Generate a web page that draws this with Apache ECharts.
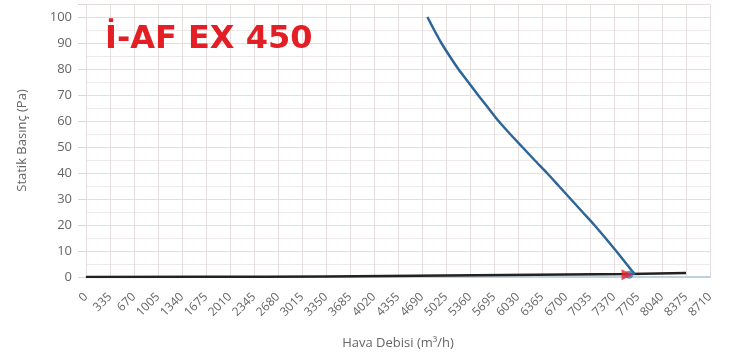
<!DOCTYPE html>
<html>
<head>
<meta charset="utf-8">
<script src="https://cdn.jsdelivr.net/npm/echarts@6/dist/echarts.min.js"></script>
<style>
html,body{margin:0;padding:0;background:#fff;}
#chart{width:736px;height:355px;}
</style>
</head>
<body>
<div id="chart"></div>
<script>
// Fan curve (flow m3/h, static pressure Pa)
const fanFlow = [4765, 4860, 4960, 5075, 5197, 5335, 5472, 5615, 5758, 5920, 6090, 6260, 6435, 6600, 6765, 6930, 7095, 7250, 7400, 7545, 7660];
const fanPressure = [100, 95, 90, 85, 80, 75, 70, 65, 60, 55, 50, 45, 40, 35, 30, 25, 20, 15, 10, 5, 1];
// System curve
const sysFlow = [0, 1675, 3350, 5025, 6700, 7580, 8375];
const sysPressure = [0, 0.06, 0.24, 0.54, 0.96, 1.2, 1.5];
// Operating point
const opFlow = [7580];
const opPressure = [0.9];
// Axis ticks
const xTicks = [0,335,670,1005,1340,1675,2010,2345,2680,3015,3350,3685,4020,4355,4690,5025,5360,5695,6030,6365,6700,7035,7370,7705,8040,8375,8710];
const yTicks = [0,10,20,30,40,50,60,70,80,90,100];

const chart = echarts.init(document.getElementById('chart'), null, {renderer:'canvas'});
const zip = (a,b) => a.map((v,i)=>[v,b[i]]);
const gridCol = '#e6dddd';
chart.setOption({
  animation:false,
  title:{
    text:'İ-AF EX 450',
    left:100, top:19,
    textStyle:{color:'#e31e24', fontSize:32, fontWeight:'bold', fontFamily:'DejaVu Sans'}
  },
  grid:{left:86, right:26, top:4, bottom:76},
  xAxis:{
    type:'value', min:xTicks[0], max:xTicks[xTicks.length-1], interval:335,
    offset:2,
    name:'Hava Debisi (m³/h)', nameLocation:'middle', nameGap:58,
    nameTextStyle:{color:'#666', fontSize:13, fontFamily:'Open Sans'},
    axisLine:{show:true, lineStyle:{color:'#c0d0e0', width:2}},
    axisTick:{show:false},
    axisLabel:{rotate:45, color:'#666', fontSize:12, fontFamily:'Open Sans', margin:16,
      formatter:v => String(v)},
    splitLine:{show:true, lineStyle:{color:gridCol, width:1}}
  },
  yAxis:{
    type:'value', min:0, max:105, interval:10,
    name:'Statik Basınç (Pa)', nameLocation:'middle', nameGap:57,
    nameTextStyle:{color:'#666', fontSize:13, fontFamily:'Open Sans'},
    axisLine:{show:false},
    axisTick:{show:true, length:8, lineStyle:{color:'#d8d8d8'}},
    axisLabel:{color:'#666', fontSize:13, fontFamily:'Open Sans', margin:14,
      formatter:v => (v % 10 === 0 ? String(v) : '')},
    splitLine:{show:true, lineStyle:{color:gridCol, width:1}},
    minorTick:{show:false, splitNumber:2},
    minorSplitLine:{show:true, lineStyle:{color:'#efe9e9', width:1}}
  },
  series:[
    {type:'line', data:zip(sysFlow, sysPressure), smooth:true, symbol:'none',
     lineStyle:{color:'#222', width:2.5}, z:3},
    {type:'line', data:zip(fanFlow, fanPressure), smooth:0.25, symbol:'none',
     lineStyle:{color:'#2d6699', width:2.5}, z:4},
    {type:'scatter', data:zip(opFlow, opPressure), symbol:'circle', symbolSize:8,
     itemStyle:{color:'#4a78b0'}, z:5},
    {type:'scatter', data:zip(opFlow, opPressure), symbol:'triangle', symbolRotate:-90,
     symbolSize:11, symbolOffset:[-2,0], itemStyle:{color:'#e8202a'}, z:6}
  ]
});
</script>
</body>
</html>
